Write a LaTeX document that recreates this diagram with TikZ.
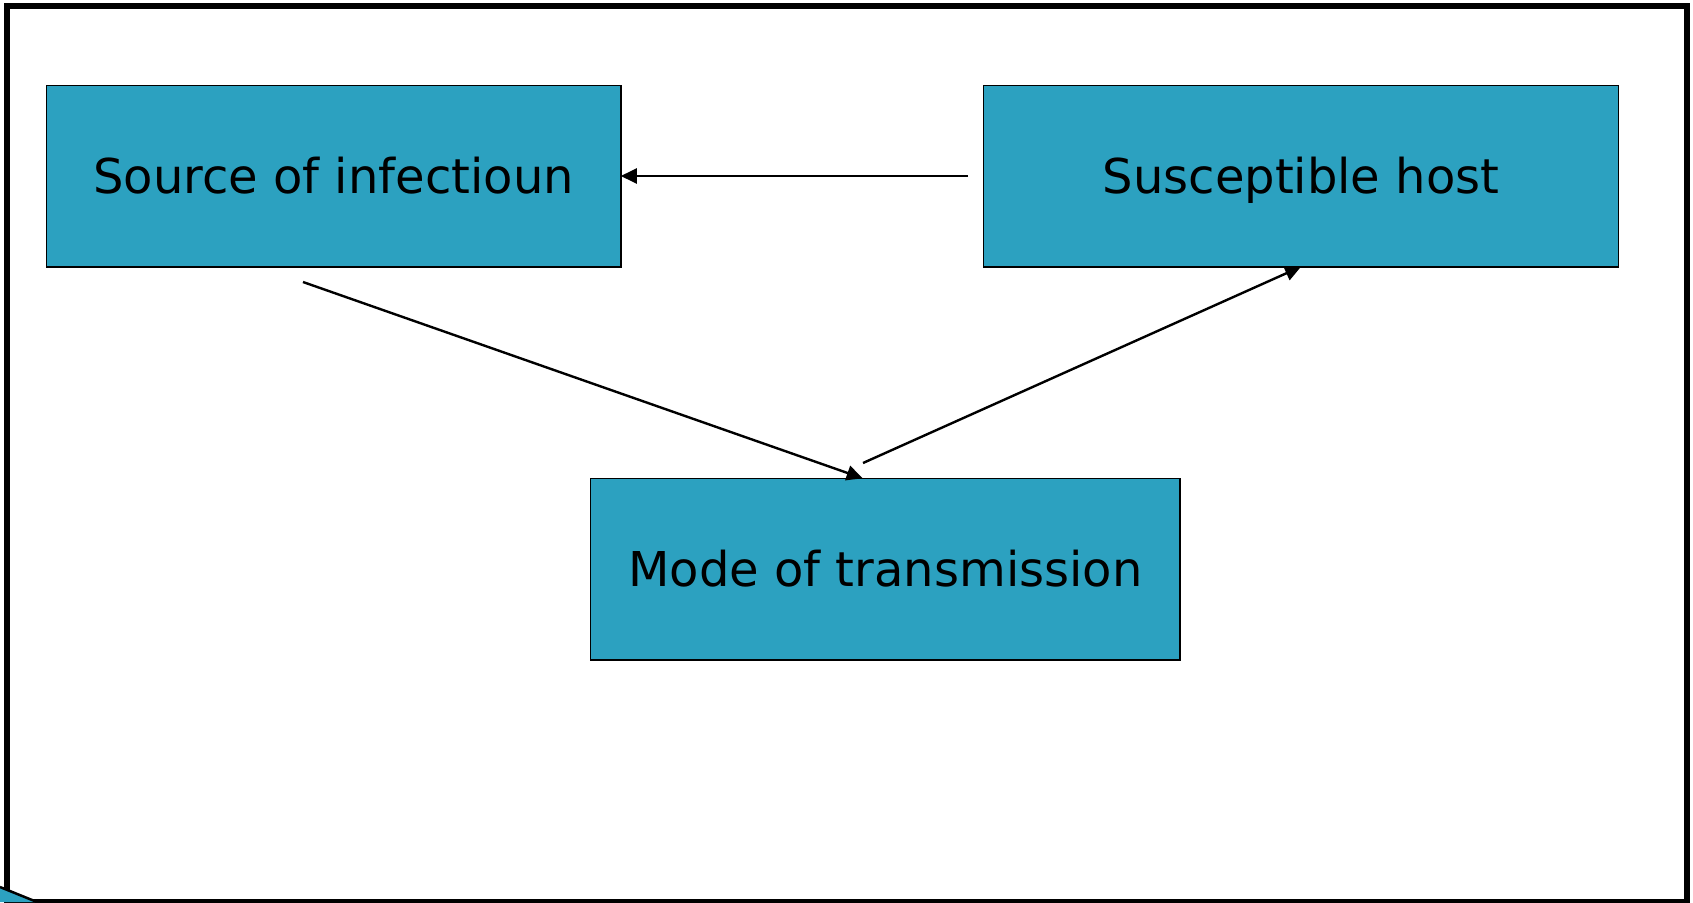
\documentclass[tikz,border=0pt]{standalone}
\usepackage{fontspec}
\setmainfont{DejaVu Sans}
\usetikzlibrary{arrows.meta}
\definecolor{boxteal}{RGB}{44,161,192}

\begin{document}
\begin{tikzpicture}[%
	x=1pt, y=-1pt,%
	box/.style ={draw=black, line width=1.6pt, fill=boxteal, inner sep=0pt, outer sep=0pt,%
		minimum height=181.4pt, text height=35pt, text depth=0pt,%
		font=\fontsize{48}{58}\selectfont},%
	link/.style ={line width=2.4pt, -{Triangle[length=16pt,width=15pt]}},%
	]
\useasboundingbox (0,0) rectangle (1693,902);
%%% frame
	\draw [line width=6.4pt] (7,6) rectangle (1686.7,902.5);
%%% frame
%%% boxes
	\node [box, minimum width=574.4pt] (source) at (333.6,176) {Source of infectioun};
	\node [box, minimum width=634.9pt] (host) at (1301,176) {Susceptible host};
	\node [box, minimum width=589.5pt] (mode) at (885.4,569) {Mode of transmission};
%%% boxes
%%% links
	\coordinate (hostout) at (968,176);
	\coordinate (sourceout) at (303,282);
	\coordinate (modeout) at (863,463);
	\draw [link] (hostout) -- (source.east);
	\draw [link] (sourceout) -- ([xshift=-22.7pt]mode.north);
	\draw [link] (modeout) -- (host.south);
%%% links
%%% corner
	\fill [boxteal] (0,887) -- (37,902) -- (0,902) -- cycle;
	\draw [line width=2.5pt] (0,887) -- (37,902);
%%% corner
\end{tikzpicture}
\end{document}
